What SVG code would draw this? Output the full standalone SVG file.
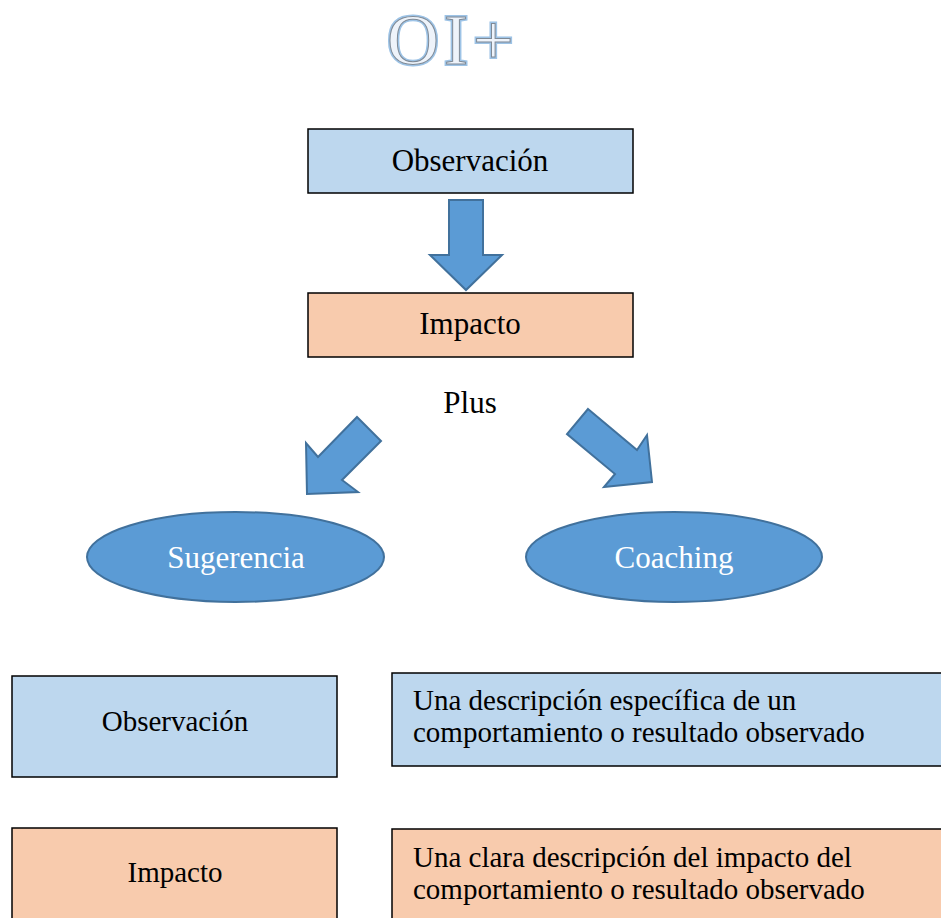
<svg xmlns="http://www.w3.org/2000/svg" width="941" height="918" viewBox="0 0 941 918">
<style>
text{font-family:"Liberation Serif","Times New Roman",serif;fill:#000}
.box{stroke:#000;stroke-width:1.5}
.blue{fill:#BDD7EE}
.peach{fill:#F8CBAD}
.arrow{fill:#5B9BD5;stroke:#41719C;stroke-width:2;stroke-linejoin:miter}
.ell{fill:#5B9BD5;stroke:#41719C;stroke-width:2}
.t31{font-size:31px}
.t29{font-size:29px}
.w{fill:#fff}
.ttl{font-size:72px;letter-spacing:5px}
</style>
<rect width="941" height="918" fill="#fff"/>
<g id="title">
<text class="ttl" x="387" y="64" style="fill:none;stroke:#9DC3E6;stroke-width:4">OI+</text>
<text class="ttl" x="387" y="64" style="fill:#EEF3FA;stroke:#7f8a96;stroke-width:1">OI+</text>
</g>
<g id="connectors">
<polygon class="arrow" points="449,200 483,200 483,255 502,255 466,290 430,255 449,255"/>
<polygon class="arrow" points="357,417 381,441 342,480 358,492 307,494 306,443 318,457"/>
<polygon class="arrow" points="588,409 637,450 647,435 652,482 604,487 615,474 567,434"/>
</g>
<g id="obs-top">
<rect class="box blue" x="308" y="129" width="325" height="64"/>
<text class="t31" x="470" y="171" text-anchor="middle">Observación</text>
</g>
<g id="imp-top">
<rect class="box peach" x="308" y="293" width="325" height="64"/>
<text class="t31" x="470" y="334" text-anchor="middle">Impacto</text>
</g>
<g id="plus">
<text class="t31" x="470" y="413" text-anchor="middle">Plus</text>
</g>
<g id="sugerencia">
<ellipse class="ell" cx="235.5" cy="557" rx="148.5" ry="45"/>
<text class="t31 w" x="236" y="568" text-anchor="middle">Sugerencia</text>
</g>
<g id="coaching">
<ellipse class="ell" cx="674" cy="557" rx="148" ry="45"/>
<text class="t31 w" x="674" y="568" text-anchor="middle">Coaching</text>
</g>
<g id="obs-label">
<rect class="box blue" x="12" y="676" width="325" height="101"/>
<text class="t29" x="175" y="731" text-anchor="middle">Observación</text>
</g>
<g id="obs-desc">
<rect class="box blue" x="392" y="673" width="560" height="93"/>
<text class="t29" x="413" y="710">Una descripción específica de un</text>
<text class="t29" x="413" y="742">comportamiento o resultado observado</text>
</g>
<g id="imp-label">
<rect class="box peach" x="12" y="828" width="325" height="100"/>
<text class="t29" x="175" y="882" text-anchor="middle">Impacto</text>
</g>
<g id="imp-desc">
<rect class="box peach" x="392" y="829" width="560" height="100"/>
<text class="t29" x="413" y="867">Una clara descripción del impacto del</text>
<text class="t29" x="413" y="899">comportamiento o resultado observado</text>
</g>
</svg>
